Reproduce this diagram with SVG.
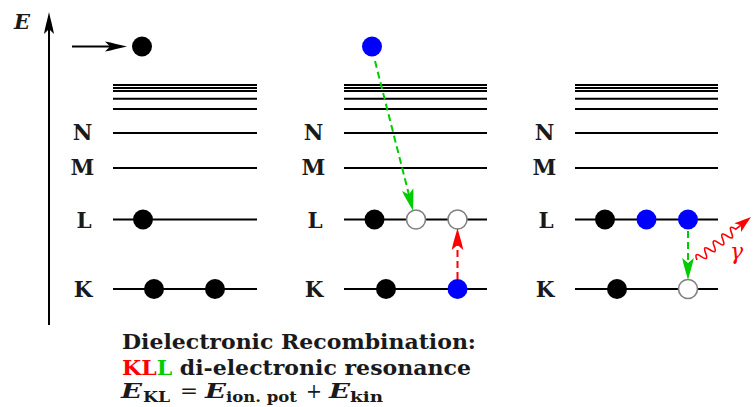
<svg xmlns="http://www.w3.org/2000/svg" width="753" height="407" viewBox="0 0 753 407">
<style>
.lvl{stroke:#000;stroke-width:2;fill:none}
.lab{font-family:"DejaVu Serif","Liberation Serif",serif;font-weight:bold;font-size:21.5px;fill:#1a1a1a;text-anchor:middle}
.body{font-family:"DejaVu Serif","Liberation Serif",serif;font-weight:bold;font-size:21px;fill:#1a1a1a}
.mi{font-family:"DejaVu Serif","Liberation Serif",serif;font-weight:bold;font-style:italic;font-size:21px;fill:#1a1a1a}
.op{font-family:"DejaVu Serif","Liberation Serif",serif;font-size:21px;fill:#1a1a1a}
.sub{font-family:"DejaVu Serif","Liberation Serif",serif;font-weight:bold;font-size:14.5px;fill:#1a1a1a}
.e{fill:#000}
.b{fill:#0000ff}
.hole{fill:#fff;stroke:#808080;stroke-width:1.6}
.ax{stroke:#000;stroke-width:2;fill:none}
.gd{stroke:#00cc00;stroke-width:2;stroke-dasharray:7 4;fill:none}
.rd{stroke:#ff0000;stroke-width:2;stroke-dasharray:7 4;fill:none}
</style>
<defs>
<marker id="ahk" markerUnits="userSpaceOnUse" viewBox="-24 -6 26 12" refX="-8" refY="0" markerWidth="26" markerHeight="12" orient="auto">
<path d="M0,0 C-7,-1.5 -15,-3.8 -22,-5 L-17,0 L-22,5 C-15,3.8 -7,1.5 0,0Z" fill="#000"/>
</marker>
<marker id="ahg" markerUnits="userSpaceOnUse" viewBox="-24 -7 26 14" refX="-8" refY="0" markerWidth="26" markerHeight="14" orient="auto">
<path d="M0,0 C-7,-1.8 -15,-4.5 -22,-5.8 L-17,0 L-22,5.8 C-15,4.5 -7,1.8 0,0Z" fill="#00cc00"/>
</marker>
<marker id="ahr" markerUnits="userSpaceOnUse" viewBox="-24 -7 26 14" refX="-8" refY="0" markerWidth="26" markerHeight="14" orient="auto">
<path d="M0,0 C-7,-1.8 -15,-4.5 -22,-5.8 L-17,0 L-22,5.8 C-15,4.5 -7,1.8 0,0Z" fill="#ff0000"/>
</marker>
</defs>
<rect width="753" height="407" fill="#fff"/>

<g id="axis">
<line class="ax" x1="49" y1="325" x2="49" y2="20" marker-end="url(#ahk)"/>
<text class="mi" x="14" y="29" font-size="22">E</text>
</g>

<g id="panel1">
<path class="lvl" d="M113,85H257M113,88H257M113,91H257M113,98.7H257M113,109H257M113,133H257M113,168H257M113,219.5H257M113,289H257"/>
<text class="lab" x="82.5" y="140">N</text>
<text class="lab" x="82.5" y="175">M</text>
<text class="lab" x="84" y="228">L</text>
<text class="lab" x="83" y="297">K</text>
<circle class="e" cx="142" cy="46.5" r="10"/>
<circle class="e" cx="143" cy="219.5" r="10"/>
<circle class="e" cx="154" cy="289" r="10"/>
<circle class="e" cx="215" cy="289" r="10"/>
</g>

<g id="panel2">
<path class="lvl" d="M344,85H487M344,88H487M344,91H487M344,98.7H487M344,109H487M344,133H487M344,168H487M344,219.5H487M344,289H487"/>
<text class="lab" x="313.5" y="140">N</text>
<text class="lab" x="313.5" y="175">M</text>
<text class="lab" x="315" y="228">L</text>
<text class="lab" x="314" y="297">K</text>
<circle class="b" cx="372" cy="46.5" r="10"/>
<circle class="e" cx="374.5" cy="219.5" r="10"/>
<circle class="hole" cx="416" cy="219.5" r="9.5"/>
<circle class="hole" cx="457.5" cy="219.5" r="9.5"/>
<circle class="e" cx="386" cy="289" r="10"/>
<circle class="b" cx="457.5" cy="289" r="10"/>
</g>

<g id="panel3">
<path class="lvl" d="M575,85H718M575,88H718M575,91H718M575,98.7H718M575,109H718M575,133H718M575,168H718M575,219.5H718M575,289H718"/>
<text class="lab" x="544.5" y="140">N</text>
<text class="lab" x="544.5" y="175">M</text>
<text class="lab" x="546" y="228">L</text>
<text class="lab" x="545" y="297">K</text>
<circle class="e" cx="605" cy="219.5" r="10"/>
<circle class="b" cx="646.5" cy="219.5" r="10"/>
<circle class="b" cx="688" cy="219.5" r="10"/>
<circle class="e" cx="617" cy="289" r="10"/>
<circle class="hole" cx="688" cy="289" r="9.5"/>
</g>

<g id="connectors">
<line class="ax" x1="72" y1="46.5" x2="119" y2="46.5" marker-end="url(#ahk)"/>
<line class="gd" x1="375" y1="61" x2="411.1" y2="203.2" marker-end="url(#ahg)"/>
<line class="rd" x1="457.5" y1="279" x2="457.5" y2="236" marker-end="url(#ahr)"/>
<line class="gd" x1="688" y1="231" x2="688" y2="272" marker-end="url(#ahg)"/>
<g transform="translate(697,260) rotate(-38.5)">
<path d="M0,0 q2.75,-9 5.5,0 t5.5,0 t5.5,0 t5.5,0 t5.5,0 t5.5,0 t5.5,0 t5.5,0 t5.5,0 L57,0" fill="none" stroke="#ff0000" stroke-width="1.6"/>
<path d="M69,0 C64,-1.5 58,-3.5 52,-5.5 L56,0 L52,5.5 C58,3.5 64,1.5 69,0Z" fill="#ff0000"/>
</g>
<text x="730" y="259" font-family="DejaVu Serif, serif" font-style="italic" font-size="22" fill="#ff0000">γ</text>
</g>

<g id="caption">
<text class="body" x="122" y="349" textLength="354" lengthAdjust="spacingAndGlyphs">Dielectronic Recombination:</text>
<text class="body" x="122" y="375" textLength="349" lengthAdjust="spacingAndGlyphs"><tspan fill="#ff0000">KL</tspan><tspan fill="#00cc00">L</tspan> di-electronic resonance</text>
<text class="mi" x="121" y="398" textLength="21" lengthAdjust="spacingAndGlyphs">E</text>
<text class="sub" x="143" y="402" textLength="27" lengthAdjust="spacingAndGlyphs">KL</text>
<text class="op" x="180" y="398" textLength="18" lengthAdjust="spacingAndGlyphs">=</text>
<text class="mi" x="205" y="398" textLength="21" lengthAdjust="spacingAndGlyphs">E</text>
<text class="sub" x="226" y="402" textLength="71" lengthAdjust="spacingAndGlyphs">ion. pot</text>
<text class="op" x="306" y="398" textLength="16" lengthAdjust="spacingAndGlyphs">+</text>
<text class="mi" x="329" y="398" textLength="21" lengthAdjust="spacingAndGlyphs">E</text>
<text class="sub" x="350" y="402" textLength="33" lengthAdjust="spacingAndGlyphs">kin</text>
</g>
</svg>
